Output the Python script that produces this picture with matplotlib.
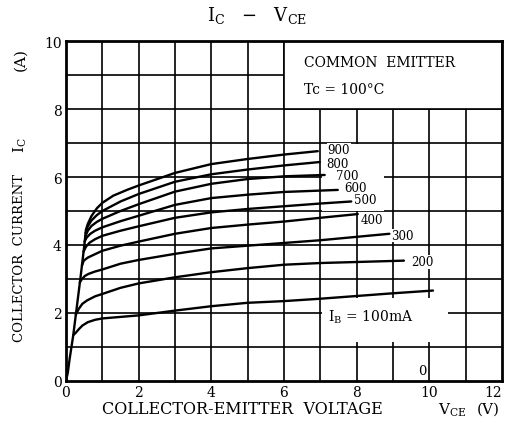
import matplotlib
matplotlib.use('Agg')
import matplotlib.pyplot as plt
from matplotlib.patches import Rectangle

# ---- data ----
STEEP_V = [0, 0.05, 0.1, 0.2, 0.3, 0.4, 0.5, 0.55]
STEEP_I = [0, 0.25, 0.65, 1.35, 2.2, 3.05, 3.95, 4.45]

V_100 = [0.2, 0.27, 0.35, 0.45, 0.6, 0.8, 1.0, 2.0, 3.0, 4.0, 5.0, 6.0, 7.0, 8.0, 9.0, 10.1]
I_100 = [1.35, 1.42, 1.52, 1.63, 1.73, 1.8, 1.84, 1.93, 2.07, 2.2, 2.3, 2.35, 2.42, 2.5, 2.58, 2.66]

V_200 = [0.27, 0.35, 0.45, 0.58, 0.8, 1.0, 1.5, 2.0, 3.0, 4.0, 5.0, 6.0, 7.0, 8.0, 9.3]
I_200 = [1.95, 2.12, 2.27, 2.37, 2.49, 2.56, 2.74, 2.87, 3.05, 3.2, 3.32, 3.42, 3.47, 3.5, 3.54]

V_300 = [0.38, 0.44, 0.52, 0.62, 0.8, 1.0, 1.5, 2.0, 3.0, 4.0, 5.0, 6.0, 7.0, 8.0, 8.9]
I_300 = [2.9, 3.0, 3.09, 3.15, 3.22, 3.28, 3.45, 3.56, 3.74, 3.9, 3.98, 4.06, 4.14, 4.24, 4.33]

V_400 = [0.44, 0.49, 0.6, 0.8, 1.0, 1.5, 2.0, 3.0, 4.0, 5.0, 6.0, 7.0, 8.03]
I_400 = [3.4, 3.54, 3.63, 3.73, 3.83, 3.98, 4.1, 4.33, 4.5, 4.6, 4.69, 4.8, 4.91]

V_500 = [0.48, 0.55, 0.65, 0.8, 1.0, 1.5, 2.0, 3.0, 4.0, 5.0, 6.0, 7.0, 7.85]
I_500 = [3.8, 3.95, 4.07, 4.17, 4.27, 4.42, 4.55, 4.8, 4.96, 5.06, 5.14, 5.22, 5.28]

V_600 = [0.51, 0.57, 0.67, 0.8, 1.0, 1.5, 2.0, 3.0, 4.0, 5.0, 6.0, 7.48]
I_600 = [4.1, 4.22, 4.33, 4.42, 4.52, 4.7, 4.86, 5.18, 5.38, 5.48, 5.56, 5.62]

V_700 = [0.53, 0.6, 0.7, 0.85, 1.0, 1.5, 2.0, 3.0, 4.0, 5.0, 6.0, 7.12]
I_700 = [4.25, 4.42, 4.56, 4.68, 4.77, 5.0, 5.2, 5.57, 5.8, 5.94, 6.02, 6.06]

V_800 = [0.54, 0.6, 0.7, 0.85, 1.0, 1.5, 2.0, 3.0, 4.0, 5.0, 6.0, 6.98]
I_800 = [4.35, 4.55, 4.72, 4.88, 5.0, 5.28, 5.5, 5.86, 6.08, 6.22, 6.34, 6.44]

V_900 = [0.55, 0.6, 0.7, 0.85, 1.0, 1.3, 1.7, 2.0, 3.0, 4.0, 5.0, 6.0, 6.93]
I_900 = [4.45, 4.62, 4.85, 5.08, 5.24, 5.45, 5.63, 5.75, 6.12, 6.38, 6.53, 6.66, 6.76]

CURVES = [(V_100, I_100), (V_200, I_200), (V_300, I_300), (V_400, I_400),
          (V_500, I_500), (V_600, I_600), (V_700, I_700), (V_800, I_800),
          (V_900, I_900)]

CURVE_LABELS = ['900', '800', '700', '600', '500', '400', '300', '200']
LABEL_X = [7.2, 7.16, 7.44, 7.66, 7.94, 8.1, 8.95, 9.5]
LABEL_Y = [6.8, 6.4, 6.05, 5.69, 5.34, 4.75, 4.28, 3.5]

X_TICKS = [0, 2, 4, 6, 8, 10, 12]
Y_TICKS = [0, 2, 4, 6, 8, 10]

# ---- figure ----
plt.rcParams['mathtext.fontset'] = 'dejavuserif'
FONT = 'DejaVu Serif'
fig = plt.figure(figsize=(5.07, 4.27), dpi=100)
ax = fig.add_axes([66/507, 1 - 382/427, 436/507, 340/427])
ax.set_xlim(0, 12)
ax.set_ylim(0, 10)

# grid
for xv in range(1, 12):
    ax.axvline(xv, color='black', lw=1.2, zorder=1)
for yv in range(1, 10):
    ax.axhline(yv, color='black', lw=1.2, zorder=1)

# white areas where the grid is interrupted
ax.add_patch(Rectangle((6, 8), 6, 2, facecolor='white', edgecolor='black',
                       lw=1.2, zorder=2))
ax.add_patch(Rectangle((7.05, 5.0), 1.7, 1.97, facecolor='white',
                       edgecolor='none', zorder=2))
ax.add_patch(Rectangle((7.05, 1.15), 3.45, 1.28, facecolor='white',
                       edgecolor='none', zorder=2))

# curves
ax.plot(STEEP_V, STEEP_I, color='black', lw=1.7, zorder=4,
        solid_joinstyle='round', solid_capstyle='round')
for v, i in CURVES:
    ax.plot(v, i, color='black', lw=1.7, zorder=4,
            solid_joinstyle='round', solid_capstyle='round')

for lab, lx, ly in zip(CURVE_LABELS, LABEL_X, LABEL_Y):
    ax.text(lx, ly, lab, fontsize=8.5, family=FONT, ha='left', va='center',
            zorder=5, bbox=dict(facecolor='white', edgecolor='none', pad=0.3))

ax.text(7.2, 1.9, r'I$_\mathrm{B}$ = 100mA', fontsize=10, family=FONT,
        ha='left', va='center', zorder=5)
ax.text(9.8, 0.3, '0', fontsize=9.5, family=FONT, ha='center', va='center',
        zorder=5, bbox=dict(facecolor='white', edgecolor='none', pad=1.5))

ax.text(6.55, 9.38, 'COMMON  EMITTER', fontsize=10, family=FONT,
        ha='left', va='center', zorder=5)
ax.text(6.55, 8.58, 'Tc = 100°C', fontsize=10, family=FONT,
        ha='left', va='center', zorder=5)

# frame and ticks
for s in ax.spines.values():
    s.set_linewidth(2.0)
    s.set_zorder(6)
ax.set_xticks(X_TICKS)
ax.set_yticks(Y_TICKS)
ax.set_xticklabels([str(t) for t in X_TICKS], family=FONT, fontsize=10)
ax.set_yticklabels([str(t) for t in Y_TICKS], family=FONT, fontsize=10)
ax.get_xticklabels()[-1].set_horizontalalignment('right')
ax.tick_params(length=0, pad=3)

# axis titles
fig.text(257/507, 1 - 15/427, r'I$_\mathrm{C}$   $-$   V$_\mathrm{CE}$',
         fontsize=13, family=FONT, ha='center', va='center')
fig.text(242/507, 1 - 410/427, 'COLLECTOR-EMITTER  VOLTAGE', fontsize=11.5,
         family=FONT, ha='center', va='center')
fig.text(452/507, 1 - 410/427, r'V$_\mathrm{CE}$', fontsize=11,
         family=FONT, ha='center', va='center')
fig.text(488/507, 1 - 410/427, '(V)', fontsize=11,
         family=FONT, ha='center', va='center')
fig.text(20/507, 1 - 258/427, 'COLLECTOR  CURRENT', fontsize=9.5,
         family=FONT, ha='center', va='center', rotation=90)
fig.text(20/507, 1 - 145/427, r'I$_\mathrm{C}$', fontsize=11,
         family=FONT, ha='center', va='center', rotation=90)
fig.text(20/507, 1 - 60/427, '(A)', fontsize=11,
         family=FONT, ha='center', va='center', rotation=90)

fig.savefig('out.png', dpi=100, facecolor='white')
